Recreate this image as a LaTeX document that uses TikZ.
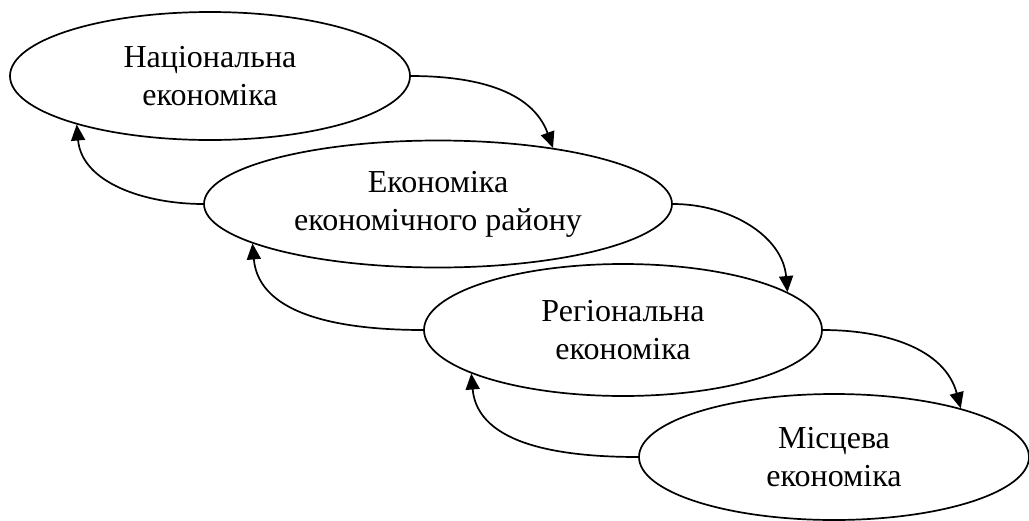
\documentclass[tikz,border=0pt]{standalone}
\usepackage{fontspec}
\setmainfont{Liberation Serif}
\usetikzlibrary{arrows.meta,shapes.geometric}

\begin{document}
\begin{tikzpicture}[->,>={Triangle[length=16pt,width=14pt]},x=1pt,y=1pt,line width=1.7pt,align=center]

    \tikzstyle{level}=[ellipse,draw=black,fill=white,inner sep=0pt,font=\fontsize{32}{38}\selectfont]

    \useasboundingbox (0,0) rectangle (1029,-520);

    \node[level, minimum width=400pt, minimum height=128pt] (nat) at (210,-76) {Національна\\економіка};
    \node[level, minimum width=468pt, minimum height=127pt] (eer) at (438,-204) {Економіка\\економічного району};
    \node[level, minimum width=398pt, minimum height=132pt] (reg) at (623,-330) {Регіональна\\економіка};
    \node[level, minimum width=390pt, minimum height=126pt] (loc) at (834,-457) {Місцева\\економіка};

    \path (nat.east) edge [out=0, in=110] (eer.26)
          (eer.west) edge [out=180, in=-85] (nat.200)
          (eer.east) edge [out=0, in=95] (reg.13)
          (reg.west) edge [out=180, in=-85] (eer.192)
          (reg.east) edge [out=0, in=105] (loc.21)
          (loc.west) edge [out=180, in=-85] (reg.196)
    ;
\end{tikzpicture}
\end{document}
